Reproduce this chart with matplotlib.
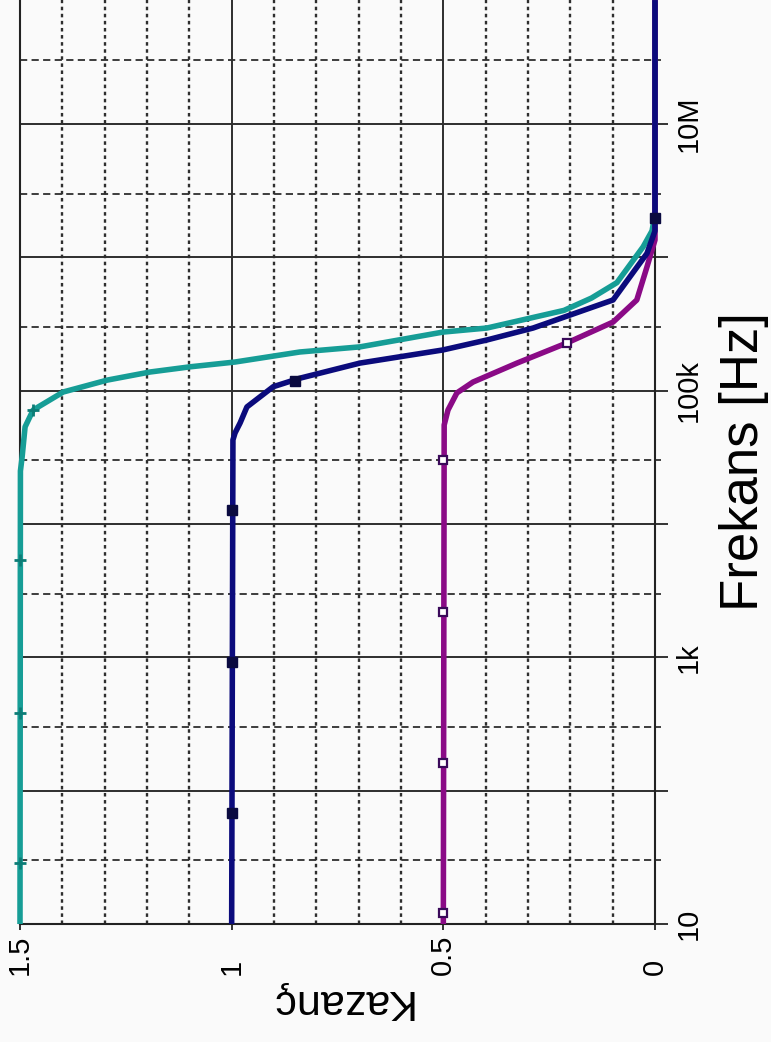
import numpy as np
import matplotlib
matplotlib.use("Agg")
import matplotlib.pyplot as plt
from matplotlib.ticker import FixedLocator, MultipleLocator, FuncFormatter, NullFormatter

plt.rcParams['font.family'] = ['Liberation Sans', 'DejaVu Sans']

# egriler: frekans [Hz] ve kazanc degerleri
f_cyan = [10, 2.5e4, 3.18e4, 5.35e4, 7.16e4, 9.77e4, 1.20e5, 1.38e5, 1.51e5, 1.64e5,
          1.95e5, 2.13e5, 2.75e5, 2.95e5, 4.0e5, 4.95e5, 6.46e5, 1.20e6, 1.58e6, 2.09e6, 8.5e7]
g_cyan = [1.5, 1.499, 1.495, 1.488, 1.469, 1.398, 1.294, 1.193, 1.098, 0.992,
          0.839, 0.697, 0.501, 0.397, 0.215, 0.150, 0.090, 0.028, 0.007, 0.0, 0.0]

f_navy = [10, 4.27e4, 4.82e4, 5.73e4, 7.55e4, 1.07e5, 1.24e5, 1.61e5, 2.02e5, 2.40e5,
          2.95e5, 4.79e5, 1.07e6, 1.58e6, 8.5e7]
g_navy = [1.0, 0.997, 0.992, 0.980, 0.964, 0.902, 0.839, 0.697, 0.501, 0.397,
          0.288, 0.099, 0.019, 0.0, 0.0]

f_purp = [10, 5.53e4, 7.16e4, 9.62e4, 1.16e5, 1.61e5, 2.28e5, 3.27e5, 4.79e5, 8.47e5, 1.35e6, 8.5e7]
g_purp = [0.5, 0.498, 0.489, 0.468, 0.430, 0.326, 0.208, 0.099, 0.043, 0.019, 0.0, 0.0]

# isaretler
mf_cyan = [28.7, 382, 5370, 7.16e4]
mg_cyan = [1.5, 1.5, 1.5, 1.469]
mf_navy = [68, 923, 1.27e4, 1.18e5, 1.97e6]
mg_navy = [1.0, 1.0, 1.0, 0.85, 0.0]
mf_purp = [12.1, 161, 2190, 3.0e4, 2.28e5]
mg_purp = [0.5, 0.5, 0.5, 0.5, 0.208]

freq_labels = {10: '10', 1e3: '1k', 1e5: '100k', 1e7: '10M'}

c_cyan = '#169d96'
c_navy = '#0b0b7c'
c_purp = '#8a0a86'
gcol = '#2e2e2e'

fig = plt.figure(figsize=(7.71, 10.42), dpi=100, facecolor='#fafafa')
ax = fig.add_axes([20/771, 118/1042, 635/771, 924/1042])
ax.set_facecolor('#fafafa')

ax.plot(g_cyan, f_cyan, color=c_cyan, lw=4, solid_capstyle='butt', zorder=3, clip_on=False)
ax.plot(mg_cyan, mf_cyan, ls='none', marker='+', ms=8, mew=2, color='#0c7c76', zorder=4, clip_on=False)
ax.plot(g_purp, f_purp, color=c_purp, lw=4, solid_capstyle='butt', zorder=3, clip_on=False)
ax.plot(mg_purp, mf_purp, ls='none', marker='s', ms=6, mew=1.6, mfc='white', mec='#3a0a5a',
        zorder=4, clip_on=False)
ax.plot(g_navy, f_navy, color=c_navy, lw=4, solid_capstyle='butt', zorder=3, clip_on=False)
ax.plot(mg_navy, mf_navy, ls='none', marker='s', ms=6.5, color='#0a0a40', zorder=4, clip_on=False)

ax.set_yscale('log')
ax.set_xlim(1.5, 0)
ax.set_ylim(10, 10**7.93)

ax.xaxis.set_major_locator(MultipleLocator(0.5))
ax.xaxis.set_minor_locator(MultipleLocator(0.1))
ax.yaxis.set_major_locator(FixedLocator([10**k for k in range(1, 8)]))
ax.yaxis.set_minor_locator(FixedLocator([3 * 10**k for k in range(1, 8)]))
ax.yaxis.set_major_formatter(FuncFormatter(lambda v, p: freq_labels.get(round(v), '')))
ax.yaxis.set_minor_formatter(NullFormatter())
ax.xaxis.set_major_formatter(FuncFormatter(lambda v, p: '%g' % round(v, 2)))

ax.set_axisbelow(True)
ax.xaxis.grid(True, which='major', color=gcol, lw=1.4, ls='-')
ax.xaxis.grid(True, which='minor', color=gcol, lw=1.7, ls=(0, (1.5, 1.5)))
ax.yaxis.grid(True, which='major', color=gcol, lw=1.4, ls='-')
ax.yaxis.grid(True, which='minor', color=gcol, lw=1.3, ls=(0, (4.0, 2.4)))

ax.yaxis.tick_right()
ax.tick_params(axis='y', which='major', direction='out', length=9, width=1.3,
               color='#222222', labelsize=21, pad=5)
ax.tick_params(axis='y', which='minor', direction='out', length=4, width=1.2, color='#222222')
ax.tick_params(axis='x', which='major', direction='out', length=4, width=1.3,
               color='#222222', labelsize=21, pad=33)
ax.tick_params(axis='x', which='minor', length=0)

plt.setp(ax.get_yticklabels(), rotation=90, va='center', ha='left')
plt.setp(ax.get_xticklabels(), rotation=90, ha='left', va='center', rotation_mode='anchor')

for s in ['left', 'bottom', 'right']:
    ax.spines[s].set_color('#222222')
    ax.spines[s].set_linewidth(1.5)
ax.spines['top'].set_visible(False)

fig.text(340/771, 1 - 1001/1042, 'Kazanç', rotation=180, ha='center', va='center', fontsize=31)
fig.text(744/771, 1 - 462/1042, 'Frekans [Hz]', rotation=90, ha='center', va='center', fontsize=38)

fig.savefig('out.png', dpi=100, facecolor=fig.get_facecolor())
